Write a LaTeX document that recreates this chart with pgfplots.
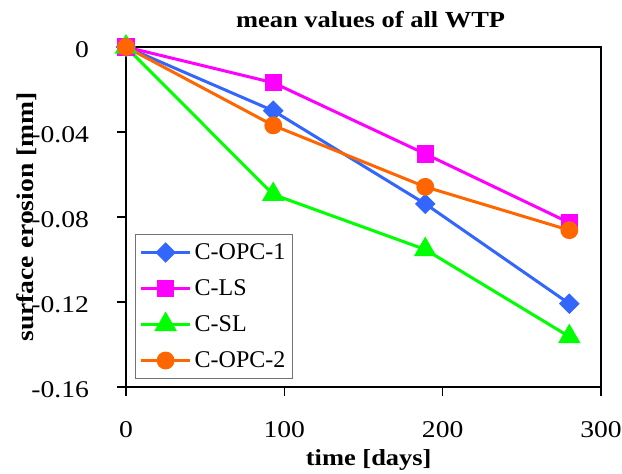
\documentclass[border=0pt]{standalone}
\usepackage{fontspec}
\setmainfont{Liberation Serif}[FakeStretch=1.15]
\newfontfamily\legfont{Liberation Serif}
\usepackage{pgfplots}
\pgfplotsset{compat=1.18}
\definecolor{cblue}{HTML}{3366FF}
\definecolor{cmag}{HTML}{FF00FF}
\definecolor{cgreen}{HTML}{00FF00}
\definecolor{corange}{HTML}{FF6600}
\begin{document}
\begin{tikzpicture}
\useasboundingbox (0,0) rectangle (311pt,236.5pt);
\begin{axis}[
  at={(63pt,43pt)}, anchor=south west,
  scale only axis, width=237.5pt, height=170pt,
  xmin=0, xmax=300, ymin=-0.16, ymax=0,
  xtick={0,100,200,300},
  ytick={-0.16,-0.12,-0.08,-0.04,0},
  yticklabels={-0.16,-0.12,-0.08,-0.04,0},
  /pgf/number format/assume math mode=true,
  tick align=outside, major tick length=4.5pt,
  xtick pos=bottom, ytick pos=left,
  axis line style={line width=0.6pt},
  every tick/.style={black, line width=0.6pt},
  tick label style={font=\fontsize{12}{14}\selectfont},
  xticklabel style={anchor=base, yshift=-20.5pt},
  yticklabel style={anchor=east, xshift=-10.5pt, yshift=-1.5pt},
  title={mean values of all WTP},
  every axis title/.style={at={(axis description cs:0.515,1)}, anchor=base, yshift=9.7pt, font=\bfseries\fontsize{11.5}{13}\selectfont},
  xlabel={time [days]},
  ylabel={surface erosion [mm]},
  every axis x label/.style={at={(axis description cs:0.511,0)}, anchor=base, yshift=-39pt, font=\bfseries\fontsize{11.5}{13}\selectfont},
  every axis y label/.style={at={(axis description cs:-0.2084,0.5)}, anchor=center, rotate=90, font=\bfseries\fontsize{12}{14}\selectfont},
  legend style={at={(0,0)}, anchor=south west, xshift=4.5pt, yshift=4pt,
    draw=black!55, line width=0.5pt, inner xsep=2pt, inner ysep=0pt,
    font=\legfont\fontsize{12}{14}\selectfont,
    nodes={inner ysep=0pt, inner xsep=1.5pt, text height=12.5pt, text depth=5.5pt}},
  legend cell align=left,
  legend image code/.code={\draw[mark repeat=2,mark phase=2,#1] plot coordinates {(0pt,0pt)(12.3pt,0pt)(24.6pt,0pt)};},
  every axis plot/.append style={line width=1.5pt},
  every mark/.append style={line width=0.4pt, solid},
]
\addplot[color=cblue, mark=square*, mark size=2.9pt, mark options={rotate=45, fill=cblue}] coordinates {(0,0) (93,-0.030) (189,-0.0738) (280,-0.1208)};
\addlegendentry{C-OPC-1}
\addplot[color=cmag, mark=square*, mark size=3.6pt, mark options={fill=cmag}] coordinates {(0,0) (93,-0.0168) (189,-0.0503) (280,-0.0827)};
\addlegendentry{C-LS}
\addplot[color=cgreen, mark=triangle*, mark size=5pt, mark options={fill=cgreen}] coordinates {(0,0) (93,-0.0694) (189,-0.0953) (280,-0.1363)};
\addlegendentry{C-SL}
\addplot[color=corange, mark=*, mark size=3.7pt, mark options={fill=corange}] coordinates {(0,0) (93,-0.0369) (189,-0.0658) (280,-0.0862)};
\addlegendentry{C-OPC-2}
\end{axis}
\end{tikzpicture}
\end{document}
